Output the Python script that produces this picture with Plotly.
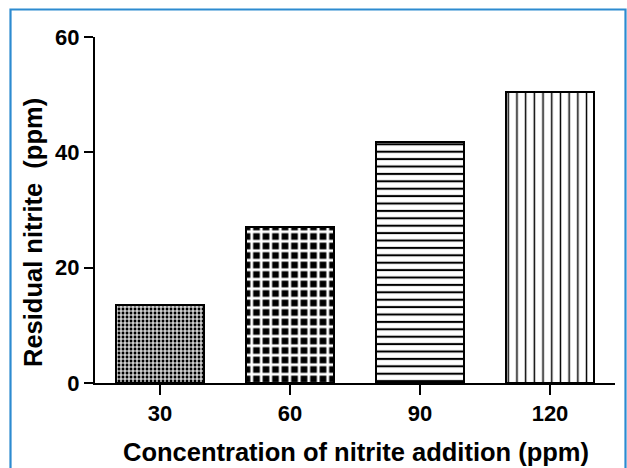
import plotly.graph_objects as go

categories = ["30", "60", "90", "120"]
residual = [13.5, 27.1, 41.8, 50.5]
y_ticks = [0, 20, 40, 60]
x_title = "Concentration of nitrite addition (ppm)"
y_title = "Residual nitrite\u00a0 (ppm)"

FONT = "Arial, Liberation Sans, sans-serif"
W, H = 627, 468
ML, MR, MT, MB = 95, 12, 37, 85
PW, PH = W - ML - MR, H - MT - MB

patterns = [
    dict(shape="+", bgcolor="black", fgcolor="white", size=4, solidity=0.5),
    dict(shape="+", bgcolor="black", fgcolor="white", size=9.5, solidity=0.5),
    dict(shape="-", bgcolor="white", fgcolor="black", size=7.4, solidity=0.28),
    dict(shape="|", bgcolor="white", fgcolor="black", size=8.7, solidity=0.17),
]

fig = go.Figure()
for cat, val, pat in zip(categories, residual, patterns):
    fig.add_trace(go.Bar(
        x=[cat], y=[val], width=0.675,
        marker=dict(color=pat["bgcolor"], line=dict(color="black", width=2),
                    pattern=dict(fillmode="replace", **pat)),
        showlegend=False,
    ))

def px_to_paper_x(px):
    return (px - ML) / PW

def px_to_paper_y(py):
    return (H - MB - py) / PH

fig.update_layout(
    width=W, height=H,
    margin=dict(l=ML, r=MR, t=MT, b=MB),
    paper_bgcolor="white", plot_bgcolor="white",
    font=dict(family=FONT, color="black"),
    bargap=0,
    xaxis=dict(type="category", range=[-0.5, 3.5], showline=True, linecolor="black",
               linewidth=2, ticks="outside", ticklen=10, tickwidth=2, tickcolor="black",
               tickfont=dict(size=22, family=FONT, weight="bold"), showgrid=False,
               zeroline=False),
    yaxis=dict(range=[0, 60], tickvals=y_ticks, showline=True, linecolor="black",
               linewidth=2, ticks="outside", ticklen=9, tickwidth=2, tickcolor="black",
               tickfont=dict(size=22, family=FONT, weight="bold"), showgrid=False,
               zeroline=False),
    annotations=[
        dict(text="<b>%s</b>" % x_title, xref="paper", yref="paper",
             x=px_to_paper_x(356), y=px_to_paper_y(452), xanchor="center", yanchor="middle",
             showarrow=False, font=dict(size=25.5, family=FONT)),
        dict(text="<b>%s</b>" % y_title, xref="paper", yref="paper", textangle=-90,
             x=px_to_paper_x(33), y=px_to_paper_y(233), xanchor="center", yanchor="middle",
             showarrow=False, font=dict(size=25.5, family=FONT)),
    ],
    shapes=[dict(type="rect", xref="paper", yref="paper",
                 x0=px_to_paper_x(10.5), x1=px_to_paper_x(625.5),
                 y0=px_to_paper_y(480), y1=px_to_paper_y(9.5),
                 line=dict(color="#2d8bd0", width=2.2), layer="below")],
)

fig.write_html("out.html", config={"displayModeBar": False},
               post_script="document.body.style.margin='0';document.body.style.overflow='hidden';")
